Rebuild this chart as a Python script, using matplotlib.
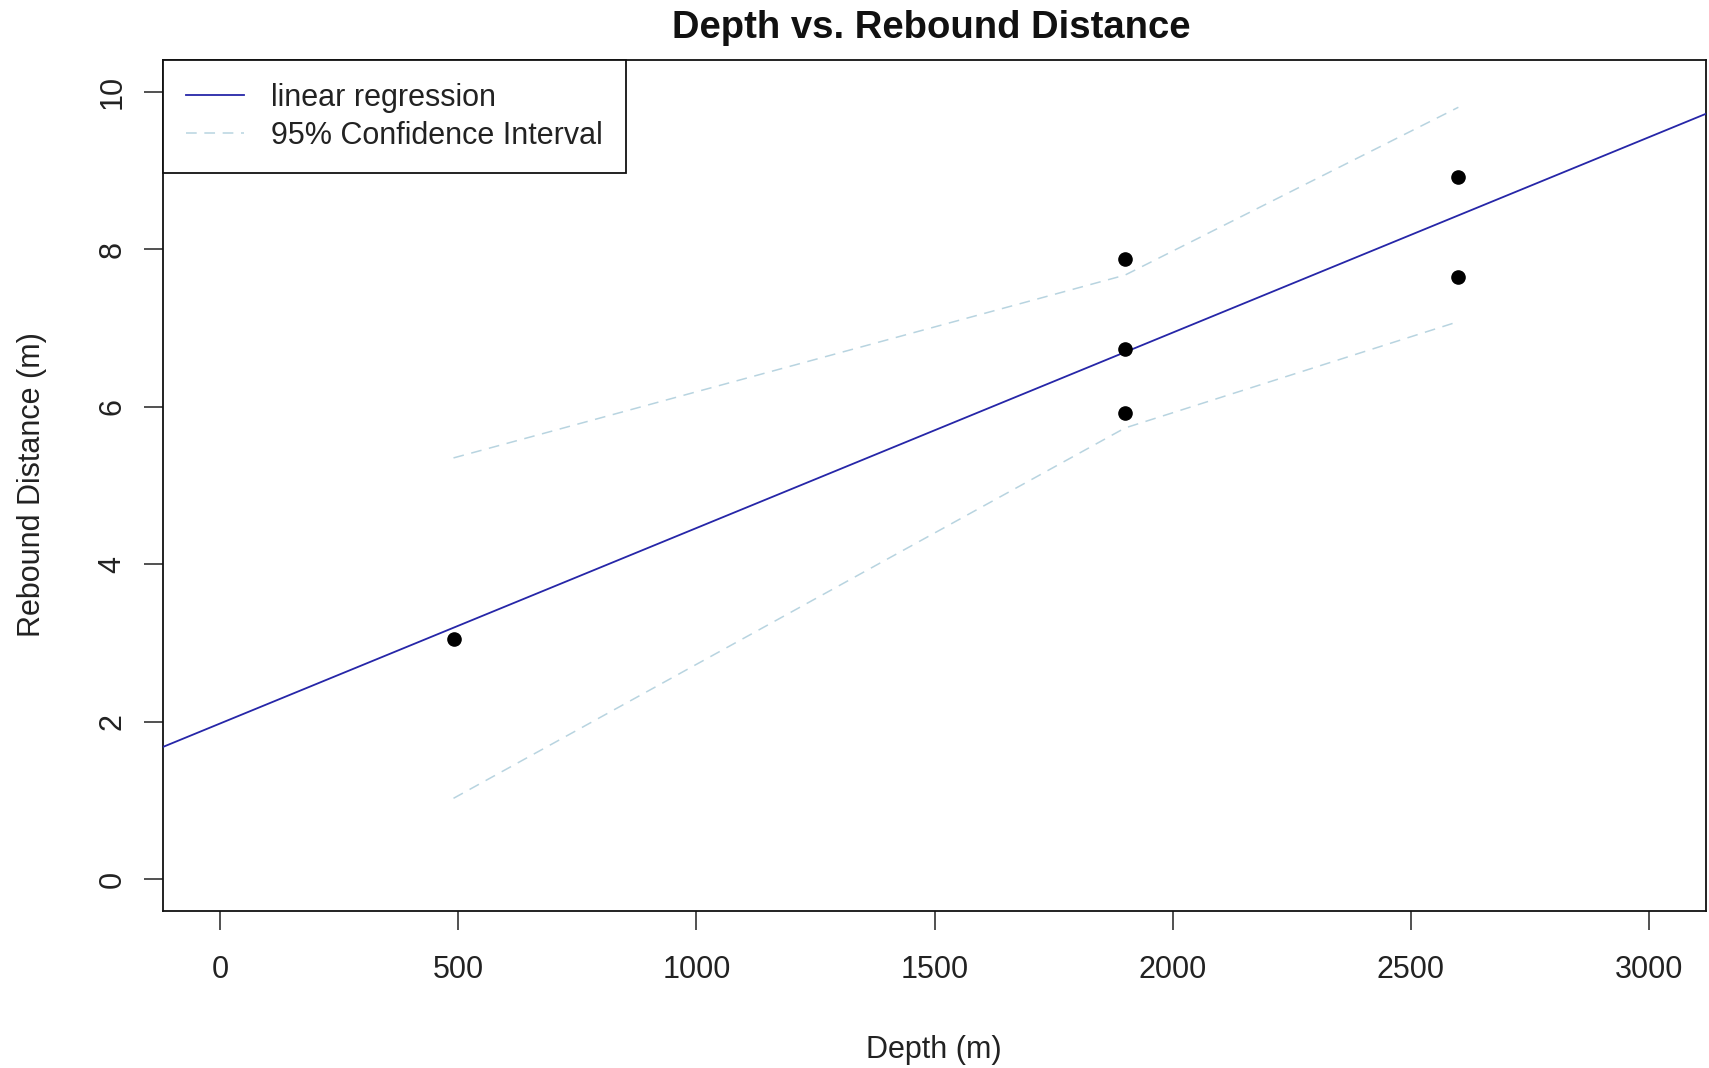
import numpy as np
import matplotlib
matplotlib.use("Agg")
import matplotlib.pyplot as plt

plt.rcParams['font.family'] = ['Liberation Sans', 'DejaVu Sans']

depth = [490, 1900, 1900, 1900, 2600, 2600]
rebound = [3.05, 7.87, 6.73, 5.92, 8.92, 7.65]

# Fitted line (intercept, slope) and the confidence band at the sorted depths
reg_intercept = 1.98
reg_slope = 0.00248
ci_depth = [490, 1900, 2600]
ci_lower = [1.03, 5.73, 7.08]
ci_upper = [5.35, 7.67, 9.80]

x_ticks = [0, 500, 1000, 1500, 2000, 2500, 3000]
y_ticks = [0, 2, 4, 6, 8, 10]

W, H = 1709, 1068
fig = plt.figure(figsize=(W / 100, H / 100), dpi=100)
ax = fig.add_axes([163 / W, 1 - 911 / H, (1706 - 163) / W, (911 - 60) / H])

ax.axline((0, reg_intercept), slope=reg_slope, color='#2626a8', lw=1.3,
          label='linear regression', zorder=3)
ax.plot(ci_depth, ci_upper, color='#b8d4e0', lw=1.1, dashes=(7, 5),
        label='95% Confidence Interval', zorder=2)
ax.plot(ci_depth, ci_lower, color='#b8d4e0', lw=1.1, dashes=(7, 5), zorder=2)
ax.plot(depth, rebound, 'o', color='black', ms=9.5, zorder=4)

ax.set_xlim(-120, 3120)
ax.set_ylim(-0.4, 10.4)
ax.set_xticks(x_ticks)
ax.set_yticks(y_ticks)
ax.tick_params(length=13.5, width=1.1, labelsize=22, colors='#222222')
ax.tick_params(axis='x', pad=18.5)
ax.tick_params(axis='y', pad=12)
for lab in ax.get_yticklabels():
    lab.set_rotation(90)
    lab.set_va('center')
for sp in ax.spines.values():
    sp.set_linewidth(1.3)
    sp.set_color('#111111')

leg = ax.legend(loc='upper left', bbox_to_anchor=(0, 1), borderaxespad=0,
                fontsize=22, fancybox=False, framealpha=1, edgecolor='#111111',
                borderpad=0.75, handlelength=1.9, handletextpad=0.9,
                labelspacing=0.25)
leg.get_frame().set_linewidth(1.3)
for t in leg.get_texts():
    t.set_color('#222222')

fig.text(931 / W, 1 - 38 / H, 'Depth vs. Rebound Distance', ha='center',
         va='baseline', fontsize=27.5, fontweight='bold', color='#111111')
fig.text(934 / W, 1 - 1058 / H, 'Depth (m)', ha='center', va='baseline',
         fontsize=22, color='#222222')
fig.text(40 / W, 1 - 485 / H, 'Rebound Distance (m)', ha='center',
         va='baseline', rotation=90, rotation_mode='anchor', fontsize=22,
         color='#222222')

fig.savefig('out.png', dpi=100, facecolor='white')
